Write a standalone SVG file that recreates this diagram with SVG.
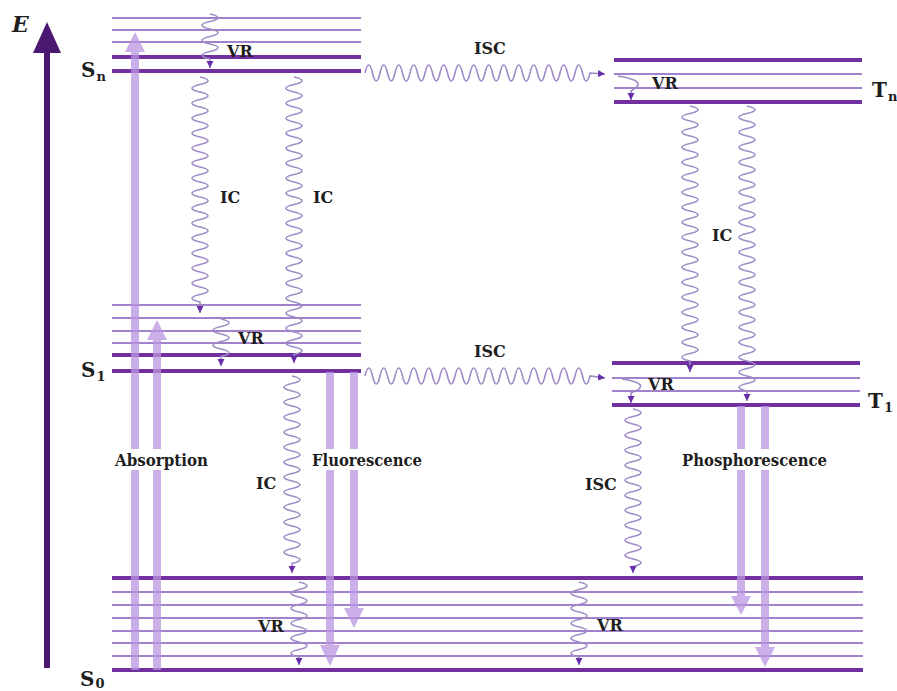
<svg xmlns="http://www.w3.org/2000/svg" width="897" height="691" viewBox="0 0 897 691">
<style>
.thin{stroke:#a282cc;stroke-width:2;fill:none}
.thick{stroke:#7030a0;stroke-width:4;fill:none}
.wave{stroke:#9d8cc6;stroke-width:1.6;fill:none;marker-end:url(#wh)}
.rad{fill:#b994e0;opacity:0.75}
.lbl{font-family:"DejaVu Serif","Liberation Serif",serif;font-weight:bold;font-size:16px;fill:#1e1e1e}
.lvl{font-family:"DejaVu Serif","Liberation Serif",serif;font-weight:bold;font-size:20px;fill:#1e1e1e}
.sub{font-size:13px}
</style>
<defs>
<marker id="wh" markerUnits="userSpaceOnUse" markerWidth="8" markerHeight="8" refX="7" refY="3.5" orient="auto">
<path d="M0,0 L7,3.5 L0,7 z" fill="#6a2da8"/>
</marker>
</defs>
<rect width="897" height="691" fill="#ffffff"/>

<g id="axis">
<line x1="47" y1="668" x2="47" y2="48" stroke="#4a1870" stroke-width="6"/>
<polygon points="33,53 47,22 61,53" fill="#4a1870"/>
<text x="12" y="32" font-family="DejaVu Serif,serif" font-weight="bold" font-style="italic" font-size="22" fill="#1e1e1e">E</text>
</g>

<g id="level-Sn">
<line class="thin" x1="112" y1="18" x2="361" y2="18"/>
<line class="thin" x1="112" y1="30" x2="361" y2="30"/>
<line class="thin" x1="112" y1="42" x2="361" y2="42"/>
<line class="thick" x1="112" y1="57" x2="361" y2="57"/>
<line class="thick" x1="112" y1="71" x2="361" y2="71"/>
<text class="lvl" x="81" y="77">S<tspan class="sub" dx="1" dy="4">n</tspan></text>
</g>

<g id="level-S1">
<line class="thin" x1="112" y1="305" x2="361" y2="305"/>
<line class="thin" x1="112" y1="318" x2="361" y2="318"/>
<line class="thin" x1="112" y1="331" x2="361" y2="331"/>
<line class="thin" x1="112" y1="343" x2="361" y2="343"/>
<line class="thick" x1="112" y1="355" x2="361" y2="355"/>
<line class="thick" x1="112" y1="371" x2="361" y2="371"/>
<text class="lvl" x="81" y="377">S<tspan class="sub" dx="1" dy="4">1</tspan></text>
</g>

<g id="level-S0">
<line class="thick" x1="112" y1="578" x2="863" y2="578"/>
<line class="thin" x1="112" y1="592" x2="863" y2="592"/>
<line class="thin" x1="112" y1="605" x2="863" y2="605"/>
<line class="thin" x1="112" y1="618" x2="863" y2="618"/>
<line class="thin" x1="112" y1="631" x2="863" y2="631"/>
<line class="thin" x1="112" y1="643" x2="863" y2="643"/>
<line class="thin" x1="112" y1="656" x2="863" y2="656"/>
<line class="thick" x1="112" y1="670" x2="863" y2="670" stroke-width="5"/>
<text class="lvl" x="80" y="686">S<tspan class="sub" dx="1" dy="2">0</tspan></text>
</g>

<g id="level-Tn">
<line class="thick" x1="614" y1="60" x2="862" y2="60"/>
<line class="thin" x1="614" y1="74" x2="862" y2="74"/>
<line class="thin" x1="614" y1="88" x2="862" y2="88"/>
<line class="thick" x1="614" y1="102" x2="862" y2="102"/>
<text class="lvl" x="872" y="97">T<tspan class="sub" dx="1" dy="4">n</tspan></text>
</g>

<g id="level-T1">
<line class="thick" x1="612" y1="363" x2="860" y2="363"/>
<line class="thin" x1="612" y1="378" x2="860" y2="378"/>
<line class="thin" x1="612" y1="391" x2="860" y2="391"/>
<line class="thick" x1="612" y1="405" x2="860" y2="405"/>
<text class="lvl" x="868" y="408">T<tspan class="sub" dx="1" dy="4">1</tspan></text>
</g>

<g id="connectors">
<g id="radiative">
<polygon class="rad" points="131,670 131,52 125,52 135,32 145,52 139,52 139,670"/>
<polygon class="rad" points="153,670 153,340 147,340 157,320 167,340 161,340 161,670"/>
<polygon class="rad" points="326,372 326,645 320,645 330,666 340,645 334,645 334,372"/>
<polygon class="rad" points="350,372 350,608 344,608 354,628 364,608 358,608 358,372"/>
<polygon class="rad" points="737,406 737,596 731,596 741,615 751,596 745,596 745,406"/>
<polygon class="rad" points="761,406 761,647 755,647 765,667 775,647 769,647 769,406"/>
<rect x="111" y="449" width="102" height="21" fill="#ffffff"/>
<rect x="309" y="449" width="116" height="21" fill="#ffffff"/>
<rect x="679" y="449" width="151" height="21" fill="#ffffff"/>
</g>
<g id="nonradiative">
<path class="wave" d="M210 14 q16 3.75 0 7.5 t0 7.5 t0 7.5 t0 7.5 t0 7.5 t0 7.5 L210 68"/>
<path class="wave" d="M200 77 q16 3.75 0 7.5 t0 7.5 t0 7.5 t0 7.5 t0 7.5 t0 7.5 t0 7.5 t0 7.5 t0 7.5 t0 7.5 t0 7.5 t0 7.5 t0 7.5 t0 7.5 t0 7.5 t0 7.5 t0 7.5 t0 7.5 t0 7.5 t0 7.5 t0 7.5 t0 7.5 t0 7.5 t0 7.5 t0 7.5 t0 7.5 t0 7.5 t0 7.5 t0 7.5 t0 7.5 L200 313"/>
<path class="wave" d="M294 77 q16 3.75 0 7.5 t0 7.5 t0 7.5 t0 7.5 t0 7.5 t0 7.5 t0 7.5 t0 7.5 t0 7.5 t0 7.5 t0 7.5 t0 7.5 t0 7.5 t0 7.5 t0 7.5 t0 7.5 t0 7.5 t0 7.5 t0 7.5 t0 7.5 t0 7.5 t0 7.5 t0 7.5 t0 7.5 t0 7.5 t0 7.5 t0 7.5 t0 7.5 t0 7.5 t0 7.5 t0 7.5 t0 7.5 t0 7.5 t0 7.5 t0 7.5 t0 7.5 t0 7.5 L294 363"/>
<path class="wave" d="M221 319 q16 3.75 0 7.5 t0 7.5 t0 7.5 t0 7.5 t0 7.5 L221 366"/>
<path class="wave" d="M292 376 q16 3.75 0 7.5 t0 7.5 t0 7.5 t0 7.5 t0 7.5 t0 7.5 t0 7.5 t0 7.5 t0 7.5 t0 7.5 t0 7.5 t0 7.5 t0 7.5 t0 7.5 t0 7.5 t0 7.5 t0 7.5 t0 7.5 t0 7.5 t0 7.5 t0 7.5 t0 7.5 t0 7.5 t0 7.5 t0 7.5 L292 573"/>
<path class="wave" d="M299 582 q16 3.75 0 7.5 t0 7.5 t0 7.5 t0 7.5 t0 7.5 t0 7.5 t0 7.5 t0 7.5 t0 7.5 t0 7.5 L299 665"/>
<path class="wave" d="M365 73 q3.75 -16 7.5 0 t7.5 0 t7.5 0 t7.5 0 t7.5 0 t7.5 0 t7.5 0 t7.5 0 t7.5 0 t7.5 0 t7.5 0 t7.5 0 t7.5 0 t7.5 0 t7.5 0 t7.5 0 t7.5 0 t7.5 0 t7.5 0 t7.5 0 t7.5 0 t7.5 0 t7.5 0 t7.5 0 t7.5 0 t7.5 0 t7.5 0 t7.5 0 t7.5 0 t7.5 0 L605 74"/>
<path class="wave" d="M365 376 q3.75 -16 7.5 0 t7.5 0 t7.5 0 t7.5 0 t7.5 0 t7.5 0 t7.5 0 t7.5 0 t7.5 0 t7.5 0 t7.5 0 t7.5 0 t7.5 0 t7.5 0 t7.5 0 t7.5 0 t7.5 0 t7.5 0 t7.5 0 t7.5 0 t7.5 0 t7.5 0 t7.5 0 t7.5 0 t7.5 0 t7.5 0 t7.5 0 t7.5 0 t7.5 0 t7.5 0 L605 378"/>
<path class="wave" d="M618 76 Q650 81 631 91 L631 100"/>
<path class="wave" d="M622 379 Q654 384 631 393 L631 403"/>
<path class="wave" d="M690 106 q16 3.75 0 7.5 t0 7.5 t0 7.5 t0 7.5 t0 7.5 t0 7.5 t0 7.5 t0 7.5 t0 7.5 t0 7.5 t0 7.5 t0 7.5 t0 7.5 t0 7.5 t0 7.5 t0 7.5 t0 7.5 t0 7.5 t0 7.5 t0 7.5 t0 7.5 t0 7.5 t0 7.5 t0 7.5 t0 7.5 t0 7.5 t0 7.5 t0 7.5 t0 7.5 t0 7.5 t0 7.5 t0 7.5 t0 7.5 t0 7.5 L690 372"/>
<path class="wave" d="M747 106 q16 3.75 0 7.5 t0 7.5 t0 7.5 t0 7.5 t0 7.5 t0 7.5 t0 7.5 t0 7.5 t0 7.5 t0 7.5 t0 7.5 t0 7.5 t0 7.5 t0 7.5 t0 7.5 t0 7.5 t0 7.5 t0 7.5 t0 7.5 t0 7.5 t0 7.5 t0 7.5 t0 7.5 t0 7.5 t0 7.5 t0 7.5 t0 7.5 t0 7.5 t0 7.5 t0 7.5 t0 7.5 t0 7.5 t0 7.5 t0 7.5 t0 7.5 t0 7.5 t0 7.5 t0 7.5 L747 401"/>
<path class="wave" d="M633 409 q16 3.75 0 7.5 t0 7.5 t0 7.5 t0 7.5 t0 7.5 t0 7.5 t0 7.5 t0 7.5 t0 7.5 t0 7.5 t0 7.5 t0 7.5 t0 7.5 t0 7.5 t0 7.5 t0 7.5 t0 7.5 t0 7.5 t0 7.5 t0 7.5 t0 7.5 L633 573"/>
<path class="wave" d="M579 582 q16 3.75 0 7.5 t0 7.5 t0 7.5 t0 7.5 t0 7.5 t0 7.5 t0 7.5 t0 7.5 t0 7.5 t0 7.5 L579 665"/>
</g>
</g>

<g id="labels">
<text class="lbl" x="227" y="57">VR</text>
<text class="lbl" x="220" y="203">IC</text>
<text class="lbl" x="313" y="203">IC</text>
<text class="lbl" x="238" y="344">VR</text>
<text class="lbl" x="474" y="54">ISC</text>
<text class="lbl" x="474" y="357">ISC</text>
<text class="lbl" x="652" y="89">VR</text>
<text class="lbl" x="648" y="390">VR</text>
<text class="lbl" x="712" y="241">IC</text>
<text class="lbl" x="115" y="466" textLength="93" lengthAdjust="spacingAndGlyphs">Absorption</text>
<text class="lbl" x="312" y="466" textLength="110" lengthAdjust="spacingAndGlyphs">Fluorescence</text>
<text class="lbl" x="682" y="466" textLength="145" lengthAdjust="spacingAndGlyphs">Phosphorescence</text>
<text class="lbl" x="256" y="489">IC</text>
<text class="lbl" x="585" y="490">ISC</text>
<text class="lbl" x="258" y="632">VR</text>
<text class="lbl" x="597" y="631">VR</text>
</g>
</svg>
